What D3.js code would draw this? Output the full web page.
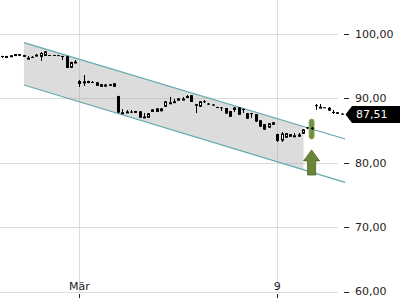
<!DOCTYPE html>
<html>
<head>
<meta charset="utf-8">
<script src="https://cdn.jsdelivr.net/npm/d3@7"></script>
<style>
  body { margin: 0; background: #fff; }
  svg { display: block; font-family: "DejaVu Sans", sans-serif; }
</style>
</head>
<body>
<div id="chart"></div>
<script>
// candle values, one per bar (index 0..79)
var open = [96.58, 96.55, 96.45, 96.60, 96.88, 96.74, 96.30, 96.44, 96.62, 96.45,
    96.60, 96.74, 96.74, 96.72, 96.58, 96.55, 94.75, 95.70, 92.24, 92.45,
    92.70, 92.55, 92.50, 92.20, 91.90, 92.20, 91.80, 90.37, 87.80, 87.95,
    87.95, 88.04, 88.00, 87.15, 87.00, 87.90, 87.90, 88.00, 88.70, 89.35,
    89.55, 89.65, 89.95, 90.35, 90.50, 89.10, 88.70, 89.55, 89.20, 89.05,
    88.66, 88.60, 88.50, 88.04, 88.20, 88.60, 88.35, 87.70, 87.70, 87.55,
    86.60, 86.00, 85.45, 85.90, 84.47, 83.45, 83.90, 84.45, 84.25, 84.05,
    84.50, 85.50, 85.45, 88.95, 88.70, 88.62, 88.55, 87.90, 87.85, 87.62];
var high = [96.62, 96.62, 96.74, 96.90, 96.90, 96.76, 96.58, 96.58, 96.90, 97.20,
    97.36, 96.76, 96.76, 96.76, 96.62, 96.62, 95.70, 95.96, 92.86, 93.63,
    92.75, 92.70, 92.55, 92.24, 92.24, 92.24, 92.39, 90.40, 88.35, 88.20,
    88.20, 88.06, 88.04, 87.73, 87.73, 88.35, 88.51, 88.51, 89.60, 90.22,
    89.91, 90.06, 90.22, 90.53, 90.53, 89.13, 89.60, 89.75, 89.29, 89.13,
    88.70, 88.66, 88.51, 88.06, 88.66, 88.66, 88.40, 87.73, 87.73, 87.58,
    86.65, 86.02, 86.18, 86.34, 84.50, 84.78, 84.63, 84.47, 84.63, 84.63,
    85.25, 85.56, 85.56, 89.13, 89.13, 88.66, 88.66, 88.20, 87.89, 87.73];
var low = [96.27, 96.30, 96.43, 96.58, 96.58, 96.43, 96.27, 96.27, 96.58, 95.81,
    96.58, 96.58, 96.58, 96.58, 95.96, 94.70, 94.70, 95.50, 91.77, 91.93,
    92.35, 92.39, 91.93, 91.77, 91.77, 91.93, 91.77, 87.73, 87.73, 87.73,
    87.73, 87.73, 86.96, 87.11, 86.96, 87.89, 87.89, 88.00, 88.66, 89.29,
    89.29, 89.60, 89.75, 90.22, 89.44, 87.73, 88.66, 89.29, 88.98, 88.82,
    88.50, 88.04, 87.58, 87.11, 87.89, 87.42, 87.73, 86.80, 86.96, 86.34,
    85.56, 85.09, 85.40, 85.87, 83.23, 83.23, 83.85, 84.01, 84.01, 84.01,
    84.47, 85.25, 85.09, 88.20, 88.66, 88.51, 88.04, 87.58, 87.58, 87.50];
var close = [96.55, 96.58, 96.70, 96.88, 96.62, 96.45, 96.32, 96.42, 96.80, 97.05,
    97.30, 96.60, 96.60, 96.60, 96.55, 94.72, 95.65, 95.72, 92.70, 92.65,
    92.39, 92.53, 91.95, 91.80, 92.15, 91.95, 92.35, 87.80, 87.85, 87.97,
    87.93, 87.75, 87.00, 87.20, 87.70, 88.30, 88.45, 88.45, 89.55, 89.40,
    89.57, 90.00, 89.97, 90.37, 89.45, 88.85, 89.55, 89.45, 89.10, 88.95,
    88.52, 88.55, 87.65, 87.15, 88.60, 87.45, 88.30, 86.85, 87.65, 86.40,
    85.60, 85.15, 86.15, 86.30, 83.40, 84.55, 84.60, 84.05, 84.27, 84.40,
    85.20, 85.35, 85.25, 88.90, 88.72, 88.55, 88.10, 87.88, 87.60, 87.51];

var xTickIndex = [18, 64];
var xTickLabels = ['Mär', '9'];
var yTicks = [60, 70, 80, 90, 100];

// trend channel (bar index, value)
var channelIndex = [5.1, 79.8];
var channelUpper = [98.65, 83.7];
var channelLower = [92.08, 76.97];
var channelFillEnd = 70.1;

// breakout signal
var signalIndex = 72;
var signalRange = [86.8, 83.7];
var arrowRange = [82.0, 78.1];
var lastPrice = 87.51;

var width = 400, height = 300;

var de = d3.formatLocale({ decimal: ',', thousands: '.', grouping: [3], currency: ['', ' €'] });
var fmt = de.format('.2f');

var x = d3.scaleLinear().domain([0, 79]).range([2, 341.7]);
var y = d3.scaleLinear().domain([60, 100]).range([291.6, 34]);

var svg = d3.select('#chart').append('svg')
    .attr('width', width)
    .attr('height', height);

// grid
svg.append('g').selectAll('line')
    .data(yTicks)
    .enter().append('line')
    .attr('x1', 0)
    .attr('x2', 338)
    .attr('y1', function(d) { return Math.round(y(d)) + 0.5; })
    .attr('y2', function(d) { return Math.round(y(d)) + 0.5; })
    .attr('stroke', '#dcdcdc');

svg.append('g').selectAll('line')
    .data(xTickIndex)
    .enter().append('line')
    .attr('x1', function(d) { return Math.round(x(d)) + 0.5; })
    .attr('x2', function(d) { return Math.round(x(d)) + 0.5; })
    .attr('y1', 0)
    .attr('y2', Math.round(y(60)))
    .attr('stroke', '#dcdcdc');

// channel fill
function lineAt(vals, i) {
    var t = (i - channelIndex[0]) / (channelIndex[1] - channelIndex[0]);
    return vals[0] + t * (vals[1] - vals[0]);
}
var fillPts = [
    [channelIndex[0], lineAt(channelUpper, channelIndex[0])],
    [channelFillEnd, lineAt(channelUpper, channelFillEnd)],
    [channelFillEnd, lineAt(channelLower, channelFillEnd)],
    [channelIndex[0], lineAt(channelLower, channelIndex[0])]
];
svg.append('path')
    .attr('d', 'M' + fillPts.map(function(p) { return x(p[0]) + ',' + y(p[1]); }).join('L') + 'Z')
    .attr('fill', '#a8a8a8')
    .attr('fill-opacity', 0.4);

[channelUpper, channelLower].forEach(function(vals) {
    svg.append('line')
        .attr('x1', x(channelIndex[0]))
        .attr('y1', y(vals[0]))
        .attr('x2', x(channelIndex[1]))
        .attr('y2', y(vals[1]))
        .attr('stroke', '#62a8ad')
        .attr('stroke-width', 1.2);
});

// signal bar + arrow
var sx = x(signalIndex);
svg.append('rect')
    .attr('x', sx - 2.5)
    .attr('y', y(signalRange[0]))
    .attr('width', 5)
    .attr('height', y(signalRange[1]) - y(signalRange[0]))
    .attr('rx', 2.5)
    .attr('fill', '#74903f')
    .attr('stroke', '#91a862')
    .attr('stroke-width', 0.8);

var at = y(arrowRange[0]), ab = y(arrowRange[1]);
svg.append('path')
    .attr('d', 'M' + sx + ',' + at +
        'L' + (sx + 8) + ',' + (at + 11) +
        'L' + (sx + 4) + ',' + (at + 11) +
        'L' + (sx + 4) + ',' + ab +
        'L' + (sx - 4) + ',' + ab +
        'L' + (sx - 4) + ',' + (at + 11) +
        'L' + (sx - 8) + ',' + (at + 11) + 'Z')
    .attr('fill', '#6b8537')
    .attr('stroke', '#4d6327')
    .attr('stroke-width', 0.8);

// candles
var bars = d3.range(open.length);
var g = svg.append('g').selectAll('g')
    .data(bars)
    .enter().append('g');

g.append('line')
    .attr('x1', function(i) { return Math.round(x(i)) + 0.5; })
    .attr('x2', function(i) { return Math.round(x(i)) + 0.5; })
    .attr('y1', function(i) { return y(high[i]); })
    .attr('y2', function(i) { return y(low[i]); })
    .attr('stroke', '#000');

g.append('rect')
    .attr('x', function(i) {
        var cx = Math.round(x(i));
        return close[i] > open[i] ? cx - 0.5 : cx - 1;
    })
    .attr('y', function(i) {
        var t = y(Math.max(open[i], close[i]));
        return close[i] > open[i] ? t + 0.5 : t;
    })
    .attr('width', function(i) { return close[i] > open[i] ? 2 : 3; })
    .attr('height', function(i) {
        var h = Math.max(1, Math.abs(y(open[i]) - y(close[i])));
        return close[i] > open[i] ? Math.max(1, h - 1) : h;
    })
    .attr('fill', function(i) { return close[i] > open[i] ? '#fff' : '#000'; })
    .attr('stroke', function(i) { return close[i] > open[i] ? '#000' : 'none'; })
    .attr('stroke-width', 1);

// y axis
var ya = svg.append('g');
ya.selectAll('line')
    .data(yTicks)
    .enter().append('line')
    .attr('x1', 344)
    .attr('x2', 349)
    .attr('y1', function(d) { return Math.round(y(d)) + 0.5; })
    .attr('y2', function(d) { return Math.round(y(d)) + 0.5; })
    .attr('stroke', '#222');
ya.selectAll('text')
    .data(yTicks)
    .enter().append('text')
    .attr('x', 355)
    .attr('y', function(d) { return y(d); })
    .attr('dy', '0.35em')
    .attr('font-size', 11)
    .attr('fill', '#222')
    .text(function(d) { return fmt(d); });

// x axis
var xa = svg.append('g');
xa.selectAll('line')
    .data(xTickIndex)
    .enter().append('line')
    .attr('x1', function(d) { return Math.round(x(d)) + 0.5; })
    .attr('x2', function(d) { return Math.round(x(d)) + 0.5; })
    .attr('y1', 294)
    .attr('y2', 298)
    .attr('stroke', '#222');
xa.selectAll('text')
    .data(xTickIndex)
    .enter().append('text')
    .attr('x', function(d) { return x(d); })
    .attr('y', 290)
    .attr('text-anchor', 'middle')
    .attr('font-size', 11)
    .attr('fill', '#222')
    .text(function(d, i) { return xTickLabels[i]; });

// last price tag
var py = y(lastPrice);
svg.append('path')
    .attr('d', 'M345.5,' + py + 'L352,' + (py - 8.5) + 'L400,' + (py - 8.5) +
        'L400,' + (py + 8.5) + 'L352,' + (py + 8.5) + 'Z')
    .attr('fill', '#000');
svg.append('text')
    .attr('x', 356)
    .attr('y', py)
    .attr('dy', '0.35em')
    .attr('font-size', 11)
    .attr('fill', '#fff')
    .text(fmt(lastPrice));
</script>
</body>
</html>
